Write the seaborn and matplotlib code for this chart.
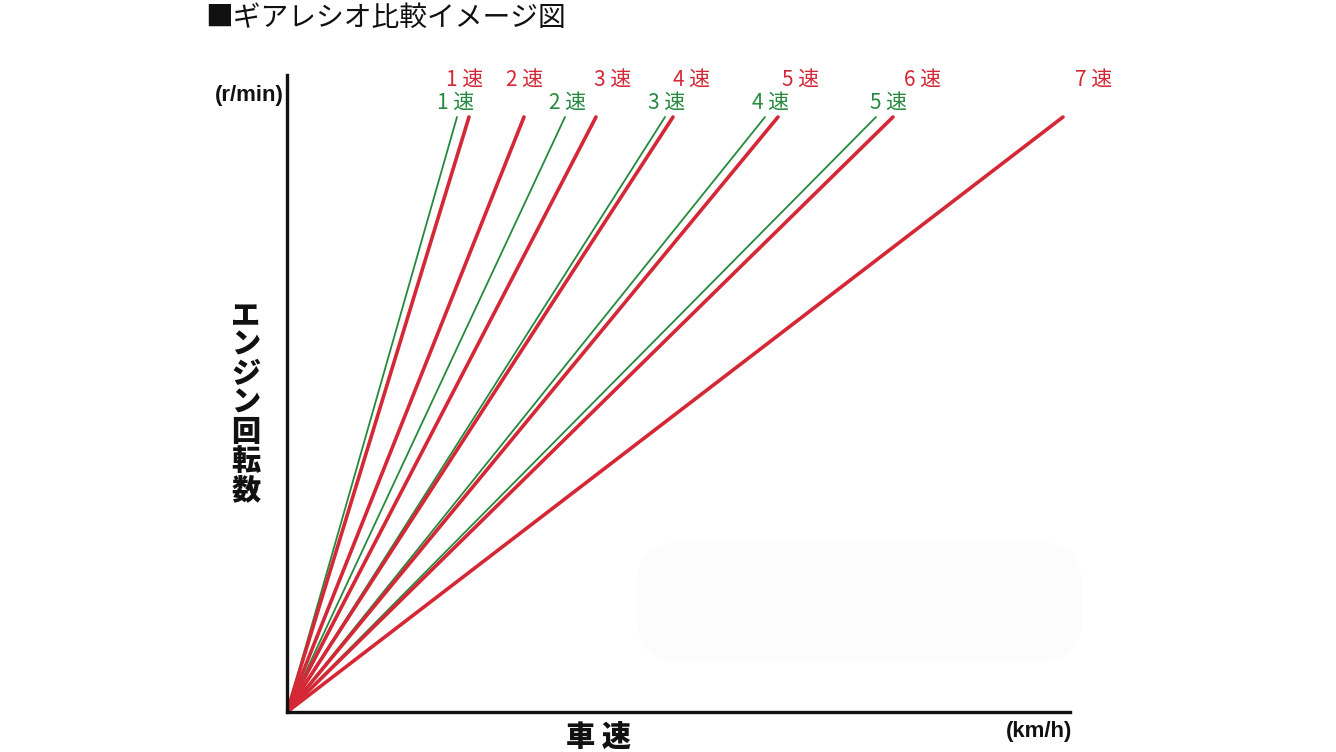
import matplotlib
matplotlib.use("Agg")
import matplotlib.pyplot as plt
from matplotlib.patches import FancyBboxPatch
import pandas as pd
import seaborn as sns

# line end speeds (arbitrary units) at the top engine speed
rpm_top = 595
red_gears = ["1速", "2速", "3速", "4速", "5速", "6速", "7速"]
red_speed = [182, 237, 309, 386, 491, 606, 776]
green_gears = ["1速", "2速", "3速", "4速", "5速"]
green_speed = [170, 278, 378, 478, 589]
# label shift from line end (points)
red_label_dx = [-3, 0, 12, 13, 16, 21, 22]
green_label_dx = [-1, 2, 1, 4, 9]

RED = "#d42836"
GREEN = "#25893f"

sns.set_theme(style="white")
plt.rcParams["font.family"] = ["Noto Sans CJK JP", "DejaVu Sans"]

rows = []
for g, s in zip(green_gears, green_speed):
    rows += [("green", g, 0, 0), ("green", g, s, rpm_top)]
for g, s in zip(red_gears, red_speed):
    rows += [("red", g, 0, 0), ("red", g, s, rpm_top)]
df = pd.DataFrame(rows, columns=["set", "gear", "speed", "rpm"])

fig = plt.figure(figsize=(13.36, 7.52), dpi=100)
ax = fig.add_axes([287 / 1336, 40 / 752, 783 / 1336, 637 / 752])

# faint smudge in the lower right of the original
ax.add_patch(FancyBboxPatch((350, 50), 445, 120, boxstyle="round,pad=0,rounding_size=45",
                            fc="#fcfcfc", ec="none", zorder=0, clip_on=False))

g_df = df[df["set"] == "green"]
sns.lineplot(data=g_df, x="speed", y="rpm", units="gear", estimator=None,
             color=GREEN, lw=1.3, ax=ax, zorder=2)
r_df = df[df["set"] == "red"]
sns.lineplot(data=r_df, x="speed", y="rpm", units="gear", estimator=None,
             color=RED, lw=2.6, ax=ax, zorder=3)

for g, s, dx in zip(red_gears, red_speed, red_label_dx):
    ax.annotate(g[0] + " " + g[1], (s, rpm_top), xytext=(dx, 27), textcoords="offset points",
                ha="center", va="center", color=RED, fontsize=15, annotation_clip=False)
for g, s, dx in zip(green_gears, green_speed, green_label_dx):
    ax.annotate(g[0] + " " + g[1], (s, rpm_top), xytext=(dx, 10), textcoords="offset points",
                ha="center", va="center", color=GREEN, fontsize=15, annotation_clip=False)

ax.set_xlim(0, 783)
ax.set_ylim(0, 637)
ax.set_xticks([])
ax.set_yticks([])
ax.set_xlabel("")
ax.set_ylabel("")
for side in ["top", "right"]:
    ax.spines[side].set_visible(False)
for side in ["left", "bottom"]:
    ax.spines[side].set_color("#111111")
    ax.spines[side].set_linewidth(2.4)
    ax.spines[side].set_zorder(5)

fig.text(205 / 1336, 1 - 18 / 752, "■ギアレシオ比較イメージ図", fontsize=20,
         ha="left", va="center", color="#111111")
fig.text(284 / 1336, 1 - 95 / 752, "(r/min)", fontsize=16, fontweight="bold",
         family=["Liberation Sans", "DejaVu Sans"], ha="right", va="center", color="#111111")
fig.text(246 / 1336, 1 - 403 / 752, "\n".join("エンジン回転数"), fontsize=21,
         fontweight="heavy", ha="center", va="center", linespacing=0.98, color="#111111")
fig.text(598 / 1336, 1 - 737 / 752, "車 速", fontsize=21, fontweight="heavy",
         ha="center", va="center", color="#111111")
fig.text(1072 / 1336, 1 - 732 / 752, "(km/h)", fontsize=16, fontweight="bold",
         family=["Liberation Sans", "DejaVu Sans"], ha="right", va="center", color="#111111")

fig.savefig("out.png", dpi=100, facecolor="white")
